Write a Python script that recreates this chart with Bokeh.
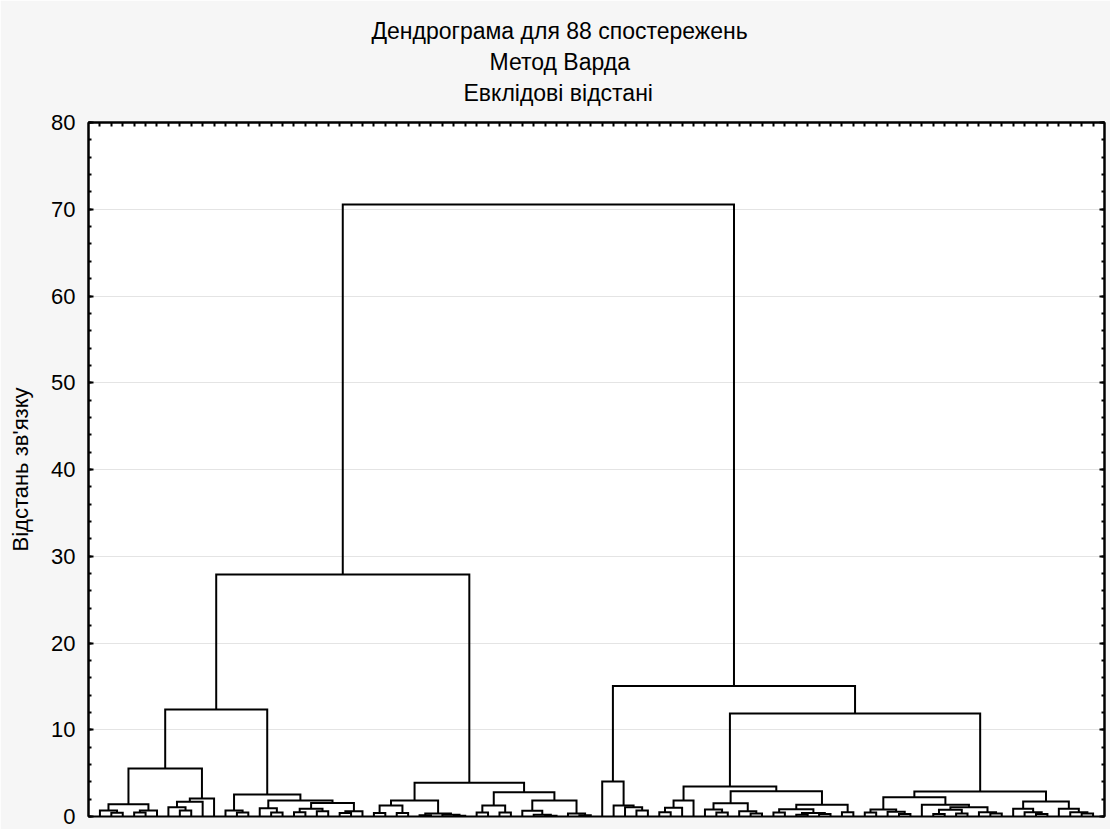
from bokeh.plotting import figure
from bokeh.models import Range1d, LinearAxis, FixedTicker, Title, ColumnDataSource
from bokeh.embed import file_html
from bokeh.resources import INLINE

# ---- data: Ward linkage tree, leaves numbered in display order (1..88) ----
# each node: (left, right, merge_height)
c1 = ((1, (2, 3, 0.42), 0.70), ((4, 5, 0.45), 6, 0.70), 1.40)
c2 = (((7, (8, 9, 0.70), 1.08), 10, 1.70), 11, 2.07)
c5 = (c1, c2, 5.53)
c6a = (12, (13, 14, 0.45), 0.70)
c6b = (15, (16, 17, 0.45), 0.96)
c6c = (((18, 19, 0.50), (20, 21, 0.60), 0.90), ((22, 23, 0.40), 24, 0.60), 1.55)
c6 = (c6a, (c6b, c6c, 1.84), 2.54)
c12 = (c5, c6, 12.33)
c3a = (((25, 26, 0.40), (27, 28, 0.40), 1.27),
       ((29, 30, 0.15), (31, (32, 33, 0.10), 0.20), 0.35), 1.84)
c3b = (((34, 35, 0.45), (36, 37, 0.45), 1.27),
       ((38, (39, (40, 41, 0.10), 0.20), 0.65), (42, (43, 44, 0.15), 0.35), 1.84), 2.80)
c3 = (c3a, c3b, 3.88)
left_group = (c12, c3, 27.90)

c4 = (45, (46, (47, (48, 49, 0.69), 1.07), 1.27), 4.03)
d1 = (((50, 51, 0.50), 52, 1.00), 53, 1.84)
d2 = ((54, (55, 56, 0.45), 0.81), (57, (58, 59, 0.35), 0.61), 1.54)
d3 = (((60, 61, 0.45), ((62, 63, 0.20), (64, 65, 0.30), 0.40), 0.85), (66, 67, 0.50), 1.35)
d = (d1, (d2, d3, 2.92), 3.46)
e1 = ((68, 69, 0.45), (70, (71, 72, 0.30), 0.55), 0.80)
e2 = (73, (((74, 75, 0.30), (76, 77, 0.35), 0.77), (78, (79, 80, 0.35), 0.50), 1.07), 1.35)
e3 = ((81, (82, (83, 84, 0.30), 0.50), 0.88), (85, (86, (87, 88, 0.35), 0.50), 0.88), 1.73)
e = ((e1, e2, 2.23), e3, 2.88)
right_group = (c4, (d, e, 11.87), 15.05)
root = (left_group, right_group, 70.55)

n_leaves = 88
title_lines = ["Дендрограма для 88 спостережень", "Метод Варда", "Евклідові відстані"]
title_offsets = [283, 401, 375]   # left offsets so that lines centre over the chart title position
y_label = "Відстань зв'язку"
y_ticks = [0, 10, 20, 30, 40, 50, 60, 70, 80]
y_minor = list(range(0, 81, 2))

# ---- build U-shaped links ----
xs, ys = [], []

def walk(n):
    if isinstance(n, int):
        return float(n), 0.0
    a, b, h = n
    xa, ha = walk(a)
    xb, hb = walk(b)
    xs.append([xa, xa, xb, xb])
    ys.append([ha, h, h, hb])
    return (xa + xb) / 2.0, h

walk(root)
src = ColumnDataSource(data=dict(xs=xs, ys=ys))

FONT = "Liberation Sans"

p = figure(width=1110, height=829, output_backend="svg", toolbar_location=None,
           x_range=Range1d(0, n_leaves + 1), y_range=Range1d(0, 80),
           x_axis_location="above",
           min_border_left=88, min_border_right=6, min_border_bottom=13, min_border_top=122)
p.background_fill_color = "white"
p.border_fill_color = "#f6f6f6"
p.outline_line_color = "black"
p.outline_line_width = 2

p.multi_line(xs="xs", ys="ys", source=src, line_color="black", line_width=2, line_join="miter")

def hide_labels(ax):
    ax.major_label_text_color = None
    ax.major_label_text_font_size = "1px"
    ax.major_label_standoff = 0

# top axis: one tick per case
xa = p.xaxis[0]
xa.ticker = FixedTicker(ticks=list(range(1, n_leaves + 1)), minor_ticks=[])
hide_labels(xa)
xa.major_tick_in = 4
xa.major_tick_out = 0
xa.major_tick_line_width = 2
xa.axis_line_color = "black"
xa.axis_line_width = 2

# invisible spacer axis between the plot and the title block
spacer = LinearAxis(ticker=FixedTicker(ticks=[n_leaves // 2], minor_ticks=[]))
hide_labels(spacer)
spacer.axis_line_color = None
spacer.major_tick_line_color = None
spacer.major_tick_in = 0
spacer.major_tick_out = 15
p.add_layout(spacer, "above")

ya = p.yaxis[0]
ya.ticker = FixedTicker(ticks=y_ticks, minor_ticks=y_minor)
ya.major_tick_in = 5
ya.major_tick_out = 0
ya.minor_tick_in = 3
ya.minor_tick_out = 0
ya.major_tick_line_width = 2
ya.minor_tick_line_width = 2
ya.axis_line_width = 2
ya.major_label_text_font = FONT
ya.major_label_text_font_size = "22px"
ya.major_label_text_color = "black"
ya.major_label_standoff = 13
ya.axis_label = y_label
ya.axis_label_text_font = FONT
ya.axis_label_text_font_size = "22px"
ya.axis_label_text_font_style = "normal"
ya.axis_label_text_color = "black"
ya.axis_label_standoff = 15

ra = LinearAxis(ticker=FixedTicker(ticks=y_ticks, minor_ticks=y_minor))
hide_labels(ra)
ra.major_tick_in = 5
ra.major_tick_out = 0
ra.minor_tick_in = 3
ra.minor_tick_out = 0
ra.major_tick_line_width = 2
ra.minor_tick_line_width = 2
ra.axis_line_width = 2
p.add_layout(ra, "right")

p.xgrid.visible = False
p.ygrid.ticker = FixedTicker(ticks=y_ticks[1:-1])
p.ygrid.grid_line_color = "#e4e4e4"
p.ygrid.grid_line_width = 1

for t, off in reversed(list(zip(title_lines, title_offsets))):
    p.add_layout(Title(text=t, align="left", offset=off, text_font=FONT, text_font_size="23px",
                       text_font_style="normal", text_color="black", standoff=3), "above")

open("out.html", "w").write(file_html(p, INLINE))
